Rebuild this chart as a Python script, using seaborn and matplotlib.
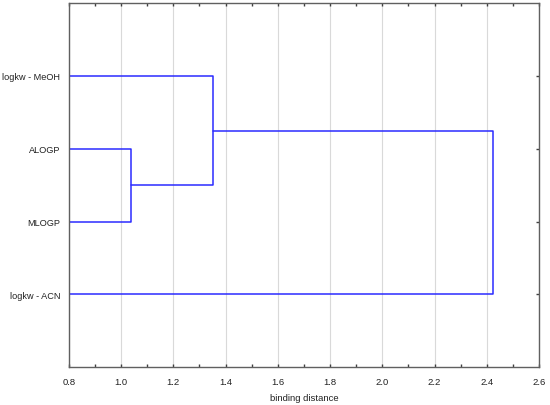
import matplotlib
matplotlib.use("Agg")
import matplotlib.pyplot as plt
from matplotlib.ticker import MultipleLocator
import seaborn as sns

# leaves, top to bottom
leaves = ["logkw - MeOH", "ALOGP", "MLOGP", "logkw - ACN"]
# merges: (left node, right node, binding distance); new clusters get ids 4, 5, ...
merge_a = [1, 0, 5]
merge_b = [2, 4, 3]
merge_dist = [1.04, 1.353, 2.423]

x_min, x_max = 0.8, 2.6

sns.set_theme(style="white")
plt.rcParams["font.family"] = ["Liberation Sans", "DejaVu Sans"]

fig, ax = plt.subplots(figsize=(5.5, 4.06), dpi=100)
fig.subplots_adjust(left=0.125, right=0.98, top=0.99, bottom=0.093)

line_color = "#2b2bff"

# node positions: (y, height)
pos = {i: (i + 1, x_min) for i in range(len(leaves))}
for k, (a, b, d) in enumerate(zip(merge_a, merge_b, merge_dist)):
    ya, ha = pos[a]
    yb, hb = pos[b]
    xs = [ha, d, d, hb]
    ys = [ya, ya, yb, yb]
    sns.lineplot(x=xs, y=ys, sort=False, estimator=None, color=line_color,
                 linewidth=1.1, ax=ax)
    pos[len(leaves) + k] = ((ya + yb) / 2, d)

ax.set_xlim(x_min, x_max)
ax.set_ylim(len(leaves) + 1, 0)
ax.set_yticks(range(1, len(leaves) + 1))
ax.set_yticklabels(leaves)
ax.xaxis.set_major_locator(MultipleLocator(0.2))
ax.xaxis.set_minor_locator(MultipleLocator(0.1))
ax.set_xticklabels([f"{v:.1f}" for v in ax.get_xticks()])

ax.grid(axis="x", which="major", color="#d9d9d9", linewidth=0.8)
ax.set_axisbelow(True)

for s in ax.spines.values():
    s.set_color("#606060")
    s.set_linewidth(1.0)

ax.tick_params(axis="x", which="both", direction="in", top=True, bottom=True,
               length=2, width=1, color="#404040", labelsize=6.8, pad=7,
               labelcolor="#222222")
ax.tick_params(axis="y", which="both", direction="in", left=False, right=True,
               length=2, width=1, color="#404040", labelsize=6.6, pad=6,
               labelcolor="#222222")

ax.set_xlabel("binding distance", fontsize=6.8, color="#222222", labelpad=5)
ax.set_ylabel("")

fig.savefig("out.png", dpi=100, facecolor="white")
